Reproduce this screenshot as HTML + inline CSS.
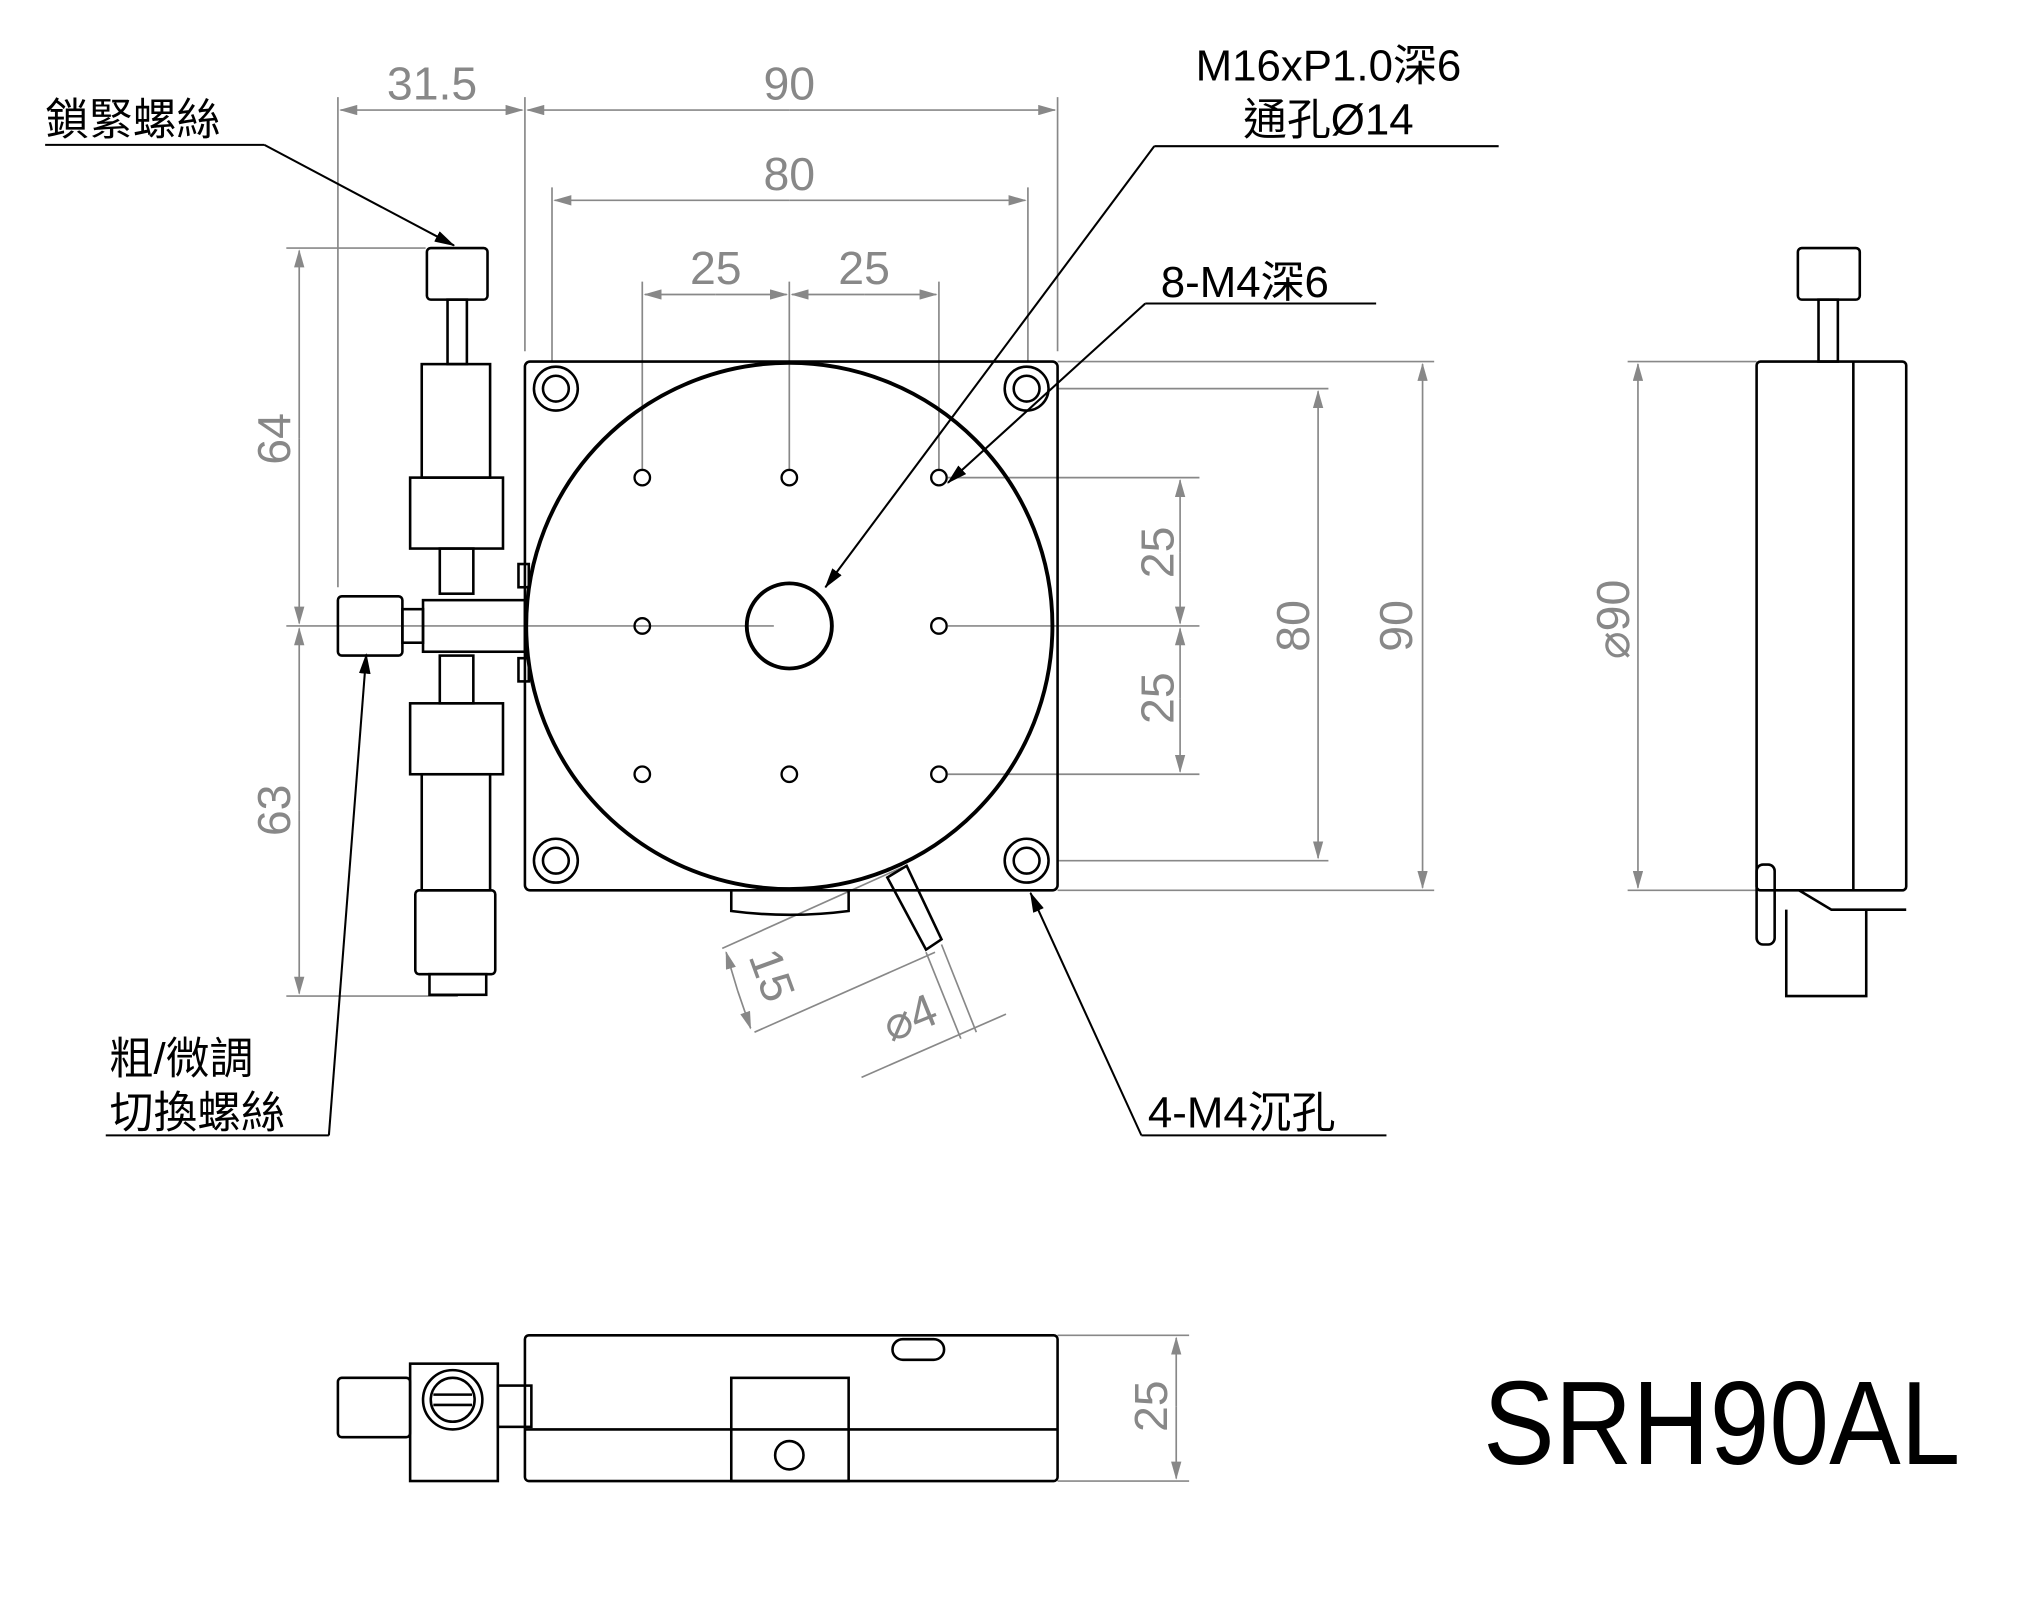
<!DOCTYPE html>
<html><head><meta charset="utf-8"><style>html,body{margin:0;padding:0;background:#fff}svg{display:block}</style></head>
<body>
<svg width="2021" height="1613" viewBox="0 0 1567 1250" xmlns="http://www.w3.org/2000/svg" font-family="Liberation Sans, Noto Sans CJK TC, sans-serif">
<defs>
<marker id="ag" markerWidth="14" markerHeight="8" refX="13" refY="4" orient="auto" markerUnits="userSpaceOnUse"><path d="M0,0 L14,4 L0,8 z" fill="#888"/></marker>
<marker id="ak" markerWidth="16" markerHeight="9" refX="15" refY="4.5" orient="auto" markerUnits="userSpaceOnUse"><path d="M0,0 L16,4.5 L0,9 z" fill="#000"/></marker>
</defs>
<g stroke="#888" stroke-width="1.3" fill="none">
<line x1="262" y1="75" x2="262" y2="455"/><line x1="407" y1="75" x2="407" y2="272"/><line x1="820" y1="75" x2="820" y2="272"/>
<line x1="428" y1="145" x2="428" y2="280"/><line x1="797" y1="145" x2="797" y2="280"/>
<line x1="498" y1="218" x2="498" y2="365"/><line x1="612" y1="218" x2="612" y2="365"/><line x1="728" y1="218" x2="728" y2="365"/>
<line x1="222" y1="192" x2="330" y2="192"/><line x1="222" y1="485" x2="600" y2="485"/><line x1="222" y1="772" x2="355" y2="772"/>
<line x1="735" y1="370" x2="930" y2="370"/><line x1="735" y1="485" x2="930" y2="485"/><line x1="735" y1="600" x2="930" y2="600"/>
<line x1="820" y1="301" x2="1030" y2="301"/><line x1="820" y1="667" x2="1030" y2="667"/>
<line x1="820" y1="280" x2="1112" y2="280"/><line x1="820" y1="690" x2="1112" y2="690"/>
<line x1="1262" y1="280" x2="1362" y2="280"/><line x1="1262" y1="690" x2="1362" y2="690"/>
<line x1="820" y1="1035" x2="922" y2="1035"/><line x1="820" y1="1148" x2="922" y2="1148"/>
<line x1="335" y1="85" x2="264" y2="85" marker-end="url(#ag)"/><line x1="335" y1="85" x2="405" y2="85" marker-end="url(#ag)"/>
<line x1="612" y1="85" x2="409" y2="85" marker-end="url(#ag)"/><line x1="612" y1="85" x2="818" y2="85" marker-end="url(#ag)"/>
<line x1="612" y1="155" x2="430" y2="155" marker-end="url(#ag)"/><line x1="612" y1="155" x2="795" y2="155" marker-end="url(#ag)"/>
<line x1="555" y1="228" x2="500" y2="228" marker-end="url(#ag)"/><line x1="555" y1="228" x2="610" y2="228" marker-end="url(#ag)"/>
<line x1="670" y1="228" x2="614" y2="228" marker-end="url(#ag)"/><line x1="670" y1="228" x2="726" y2="228" marker-end="url(#ag)"/>
<line x1="232" y1="340" x2="232" y2="194" marker-end="url(#ag)"/><line x1="232" y1="340" x2="232" y2="483" marker-end="url(#ag)"/>
<line x1="232" y1="628" x2="232" y2="487" marker-end="url(#ag)"/><line x1="232" y1="628" x2="232" y2="770" marker-end="url(#ag)"/>
<line x1="915" y1="428" x2="915" y2="372" marker-end="url(#ag)"/><line x1="915" y1="428" x2="915" y2="483" marker-end="url(#ag)"/>
<line x1="915" y1="541" x2="915" y2="487" marker-end="url(#ag)"/><line x1="915" y1="541" x2="915" y2="598" marker-end="url(#ag)"/>
<line x1="1022" y1="485" x2="1022" y2="303" marker-end="url(#ag)"/><line x1="1022" y1="485" x2="1022" y2="665" marker-end="url(#ag)"/>
<line x1="1103" y1="485" x2="1103" y2="282" marker-end="url(#ag)"/><line x1="1103" y1="485" x2="1103" y2="688" marker-end="url(#ag)"/>
<line x1="1270" y1="485" x2="1270" y2="282" marker-end="url(#ag)"/><line x1="1270" y1="485" x2="1270" y2="688" marker-end="url(#ag)"/>
<line x1="912" y1="1090" x2="912" y2="1037" marker-end="url(#ag)"/><line x1="912" y1="1090" x2="912" y2="1146" marker-end="url(#ag)"/>
<line x1="560" y1="735" x2="700" y2="672"/><line x1="585" y1="800" x2="725" y2="738"/>
<line x1="572" y1="768" x2="563" y2="738" marker-end="url(#ag)"/><line x1="572" y1="768" x2="582" y2="797" marker-end="url(#ag)"/>
<line x1="668" y1="835" x2="780" y2="786"/><line x1="718" y1="738" x2="745" y2="805"/><line x1="730" y1="732" x2="757" y2="800"/>
</g>
<g fill="#888" font-size="36" text-anchor="middle">
<text x="335" y="77">31.5</text><text x="612" y="77">90</text><text x="612" y="147">80</text>
<text x="555" y="220">25</text><text x="670" y="220">25</text>
<text transform="translate(225,340) rotate(-90)">64</text><text transform="translate(225,628) rotate(-90)">63</text>
<text transform="translate(910,428) rotate(-90)">25</text><text transform="translate(910,541) rotate(-90)">25</text>
<text transform="translate(1015,485) rotate(-90)">80</text><text transform="translate(1095,485) rotate(-90)">90</text>
<text transform="translate(1263,480) rotate(-90)">⌀90</text><text transform="translate(905,1090) rotate(-90)">25</text>
<text transform="translate(587,760) rotate(70)">15</text><text transform="translate(710,800) rotate(-22)">⌀4</text>
</g>
<g stroke="#000" fill="none" stroke-width="2">
<rect x="407" y="280" width="413" height="410" rx="4"/>
<circle cx="612" cy="485" r="204" stroke-width="3"/>
<circle cx="612" cy="485" r="33" stroke-width="3"/>
<g stroke-width="1.8">
<circle cx="498" cy="370" r="6"/><circle cx="612" cy="370" r="6"/><circle cx="728" cy="370" r="6"/>
<circle cx="498" cy="485" r="6"/><circle cx="728" cy="485" r="6"/>
<circle cx="498" cy="600" r="6"/><circle cx="612" cy="600" r="6"/><circle cx="728" cy="600" r="6"/>
</g>
<circle cx="431" cy="301" r="17"/><circle cx="431" cy="301" r="10"/>
<circle cx="796" cy="301" r="17"/><circle cx="796" cy="301" r="10"/>
<circle cx="431" cy="667" r="17"/><circle cx="431" cy="667" r="10"/>
<circle cx="796" cy="667" r="17"/><circle cx="796" cy="667" r="10"/>
<path d="M567,690 V706 Q612,712 658,706 V690"/>
<path d="M688,680 L703,671 L730,728 L718,736 Z"/>
<rect x="402" y="437" width="8" height="18"/><rect x="402" y="510" width="8" height="18"/>
<rect x="331" y="192" width="47" height="40" rx="3"/>
<rect x="347" y="232" width="15" height="50"/>
<rect x="327" y="282" width="53" height="88"/>
<rect x="318" y="370" width="72" height="55"/>
<rect x="341" y="425" width="26" height="35"/>
<rect x="328" y="465" width="79" height="40"/>
<rect x="312" y="472" width="16" height="26"/>
<rect x="262" y="462" width="50" height="46" rx="3"/>
<rect x="341" y="508" width="26" height="37"/>
<rect x="318" y="545" width="72" height="55"/>
<rect x="327" y="600" width="53" height="90"/>
<rect x="322" y="690" width="62" height="65" rx="3"/>
<rect x="333" y="755" width="44" height="16"/>
<rect x="1394" y="192" width="48" height="40" rx="3"/>
<rect x="1410" y="232" width="15" height="48"/>
<rect x="1362" y="280" width="116" height="410" rx="3"/>
<line x1="1437" y1="280" x2="1437" y2="690"/>
<path d="M1395,690 L1420,705 H1478 M1385,705 V772 H1447 V705"/>
<rect x="1362" y="670" width="14" height="62" rx="5"/>
<rect x="407" y="1035" width="413" height="113" rx="3"/>
<line x1="407" y1="1108" x2="820" y2="1108"/>
<rect x="567" y="1068" width="91" height="80"/>
<circle cx="612" cy="1128" r="11"/>
<rect x="692" y="1038" width="40" height="16" rx="8"/>
<rect x="318" y="1057" width="68" height="91"/>
<circle cx="351" cy="1085" r="23"/><circle cx="351" cy="1085" r="17"/>
<line x1="336" y1="1081" x2="366" y2="1081"/><line x1="336" y1="1089" x2="366" y2="1089"/>
<rect x="386" y="1074" width="26" height="32"/>
<rect x="262" y="1068" width="56" height="46" rx="3"/>
</g>
<g stroke="#000" stroke-width="1.6" fill="none">
<line x1="895" y1="113" x2="1162" y2="113"/><line x1="895" y1="113" x2="640" y2="455" marker-end="url(#ak)"/>
<line x1="888" y1="235" x2="1067" y2="235"/><line x1="888" y1="235" x2="735" y2="374" marker-end="url(#ak)"/>
<line x1="885" y1="880" x2="1075" y2="880"/><line x1="885" y1="880" x2="799" y2="692" marker-end="url(#ak)"/>
<line x1="35" y1="112" x2="205" y2="112"/><line x1="205" y1="112" x2="352" y2="190" marker-end="url(#ak)"/>
<line x1="82" y1="880" x2="255" y2="880"/><line x1="255" y1="880" x2="284" y2="507" marker-end="url(#ak)"/>
</g>
<g fill="#000" font-size="34">
<text x="1030" y="62" text-anchor="middle">M16xP1.0深6</text>
<text x="1030" y="104" text-anchor="middle">通孔Ø14</text>
<text x="900" y="230">8-M4深6</text>
<text x="890" y="874">4-M4沉孔</text>
<text x="35" y="104">鎖緊螺絲</text>
<text x="85" y="832">粗/微調</text>
<text x="85" y="874">切換螺絲</text>
<text x="1150" y="1135" font-size="92" textLength="370" lengthAdjust="spacingAndGlyphs">SRH90AL</text>
</g>
</svg>
</body></html>
